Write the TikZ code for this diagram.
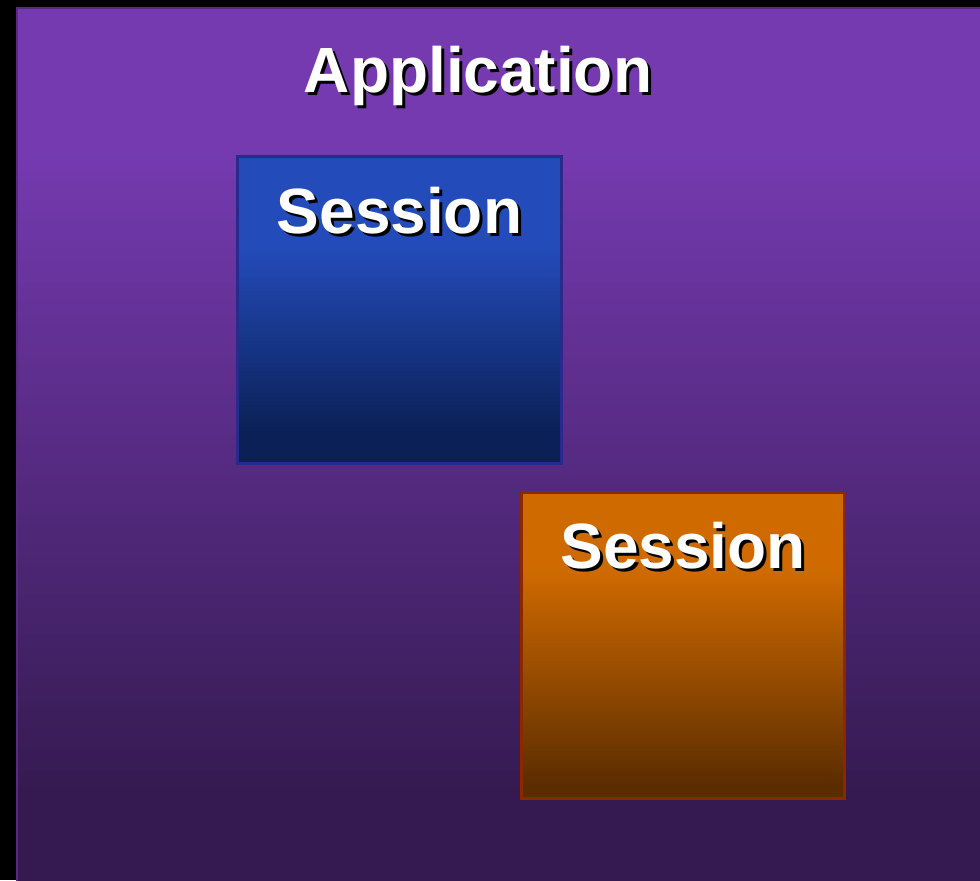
\documentclass[tikz,border=0pt]{standalone}
\usepackage{fontspec}
\setmainfont{Liberation Sans}
\usepackage{xcolor}
\usepackage{tikz}
\usetikzlibrary{positioning}

\definecolor{apptop}{RGB}{117,58,176}
\definecolor{appbot}{RGB}{52,26,80}
\definecolor{appline}{RGB}{88,42,128}
\definecolor{bluetop}{RGB}{35,75,185}
\definecolor{bluebot}{RGB}{11,32,86}
\definecolor{blueline}{RGB}{40,42,140}
\definecolor{orangetop}{RGB}{206,106,0}
\definecolor{orangebot}{RGB}{90,44,0}
\definecolor{orangeline}{RGB}{140,40,0}

% vertical shadings: 25bp = bottom of the path, 75bp = top
\pgfdeclareverticalshading{appshade}{100bp}{color(0bp)=(appbot); color(30bp)=(appbot); color(67bp)=(apptop); color(100bp)=(apptop)}
\pgfdeclareverticalshading{blueshade}{100bp}{color(0bp)=(bluebot); color(30bp)=(bluebot); color(60bp)=(bluetop); color(100bp)=(bluetop)}
\pgfdeclareverticalshading{orangeshade}{100bp}{color(0bp)=(orangebot); color(27bp)=(orangebot); color(62bp)=(orangetop); color(100bp)=(orangetop)}

% white text with a black drop shadow
\newcommand{\shadowed}[1]{\rlap{\kern0.06cm\raisebox{-0.06cm}{\color{black}#1}}#1}

\begin{document}
\begin{tikzpicture}[x=0.02cm,y=-0.02cm,
  title/.style={anchor=base,text=white,inner sep=0pt,font=\fontsize{36.4}{40}\selectfont\bfseries}]

    \tikzstyle{appbox} = [rectangle,inner sep=0pt,anchor=north west,minimum width=19.6cm,minimum height=17.6cm,shading=appshade,draw=appline,line width=1.2pt]
    \tikzstyle{bluebox} = [rectangle,inner sep=0pt,minimum width=6.48cm,minimum height=6.14cm,shading=blueshade,draw=blueline,line width=1.7pt]
    \tikzstyle{orangebox} = [rectangle,inner sep=0pt,minimum width=6.48cm,minimum height=6.14cm,shading=orangeshade,draw=orangeline,line width=1.7pt]

  \useasboundingbox (0,0) rectangle (980,880);
  \fill[black] (0,0) rectangle (980,880);

  \node[appbox] (app) at (16,7) {};
  \node[bluebox] (s1) at (399.5,310) {};
  \node[orangebox] (s2) at (683,645.5) {};

  \node[title] (apptitle) at (478,92) {\shadowed{Application}};
  \node[title] (s1title) at ([shift={(0,78)}]s1.north) {\shadowed{Session}};
  \node[title] (s2title) at ([shift={(0,78)}]s2.north) {\shadowed{Session}};

\end{tikzpicture}
\end{document}
